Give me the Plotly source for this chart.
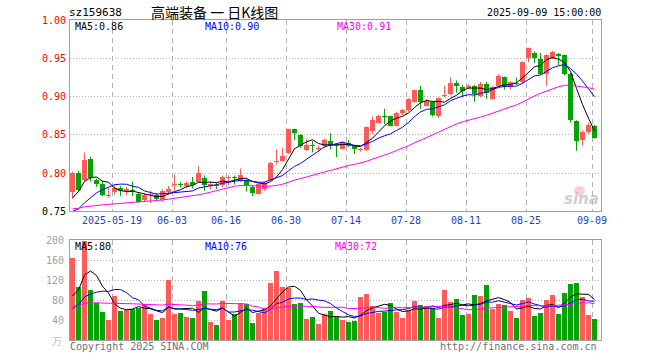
import numpy as np
import plotly.graph_objects as go

# ---------------- data ----------------
may = [8, 9, 12, 13, 14, 15, 16, 19, 20, 21, 22, 23, 26, 27, 28, 29, 30]
jun = [3, 4, 5, 6, 9, 10, 11, 12, 13, 16, 17, 18, 19, 20, 23, 24, 25, 26, 27, 30]
jul = [1, 2, 3, 4, 7, 8, 9, 10, 11, 14, 15, 16, 17, 18, 21, 22, 23, 24, 25, 28, 29, 30, 31]
aug = [1, 4, 5, 6, 7, 8, 11, 12, 13, 14, 15, 18, 19, 20, 21, 22, 25, 26, 27, 28, 29]
sep = [1, 2, 3, 4, 5, 8, 9]
dates = (["2025-05-%02d" % d for d in may] + ["2025-06-%02d" % d for d in jun] +
         ["2025-07-%02d" % d for d in jul] + ["2025-08-%02d" % d for d in aug] +
         ["2025-09-%02d" % d for d in sep])

open_ = [0.775, 0.800, 0.791, 0.819, 0.791, 0.786, 0.770, 0.775, 0.780, 0.776,
         0.778, 0.773, 0.765, 0.771, 0.771, 0.765, 0.775, 0.784, 0.785, 0.783,
         0.789, 0.789, 0.793, 0.783, 0.784, 0.785, 0.794, 0.795, 0.790, 0.791,
         0.782, 0.773, 0.779, 0.791, 0.814, 0.816, 0.826, 0.857, 0.850, 0.830,
         0.837, 0.831, 0.835, 0.842, 0.836, 0.832, 0.839, 0.836, 0.830, 0.830,
         0.855, 0.866, 0.874, 0.874, 0.862, 0.879, 0.882, 0.893, 0.909, 0.888,
         0.893, 0.875, 0.901, 0.903, 0.918, 0.912, 0.911, 0.914, 0.901, 0.917,
         0.897, 0.914, 0.925, 0.912, 0.918, 0.919, 0.951, 0.957, 0.949, 0.930,
         0.950, 0.956, 0.954, 0.930, 0.868, 0.843, 0.854, 0.862]
high = [0.802, 0.803, 0.827, 0.821, 0.793, 0.790, 0.781, 0.784, 0.783, 0.782,
        0.789, 0.774, 0.773, 0.777, 0.774, 0.779, 0.783, 0.798, 0.788, 0.789,
        0.795, 0.809, 0.797, 0.789, 0.787, 0.797, 0.797, 0.797, 0.806, 0.793,
        0.784, 0.787, 0.789, 0.815, 0.831, 0.833, 0.858, 0.858, 0.851, 0.845,
        0.842, 0.836, 0.845, 0.852, 0.837, 0.842, 0.843, 0.837, 0.833, 0.861,
        0.874, 0.876, 0.884, 0.875, 0.880, 0.884, 0.898, 0.909, 0.914, 0.897,
        0.894, 0.899, 0.914, 0.925, 0.921, 0.915, 0.916, 0.915, 0.919, 0.919,
        0.914, 0.929, 0.926, 0.920, 0.925, 0.946, 0.964, 0.959, 0.957, 0.955,
        0.960, 0.957, 0.955, 0.931, 0.869, 0.856, 0.866, 0.863]
low = [0.767, 0.776, 0.789, 0.789, 0.782, 0.770, 0.768, 0.772, 0.770, 0.771,
       0.770, 0.761, 0.762, 0.761, 0.764, 0.763, 0.772, 0.777, 0.781, 0.780,
       0.780, 0.788, 0.777, 0.779, 0.779, 0.782, 0.784, 0.785, 0.788, 0.776,
       0.770, 0.772, 0.777, 0.790, 0.811, 0.815, 0.825, 0.843, 0.833, 0.829,
       0.827, 0.828, 0.833, 0.831, 0.821, 0.831, 0.834, 0.825, 0.828, 0.829,
       0.851, 0.865, 0.864, 0.861, 0.861, 0.876, 0.880, 0.892, 0.884, 0.887,
       0.874, 0.872, 0.899, 0.902, 0.905, 0.899, 0.910, 0.893, 0.899, 0.897,
       0.896, 0.913, 0.909, 0.909, 0.915, 0.916, 0.945, 0.944, 0.928, 0.914,
       0.949, 0.941, 0.928, 0.866, 0.829, 0.836, 0.851, 0.845]
close = [0.800, 0.778, 0.817, 0.794, 0.786, 0.772, 0.771, 0.780, 0.777, 0.779,
         0.775, 0.762, 0.771, 0.772, 0.766, 0.777, 0.779, 0.785, 0.784, 0.787,
         0.784, 0.800, 0.784, 0.786, 0.783, 0.795, 0.795, 0.794, 0.798, 0.784,
         0.774, 0.786, 0.787, 0.813, 0.815, 0.822, 0.857, 0.852, 0.836, 0.837,
         0.836, 0.832, 0.843, 0.836, 0.835, 0.840, 0.835, 0.832, 0.831, 0.860,
         0.870, 0.875, 0.873, 0.862, 0.879, 0.882, 0.897, 0.908, 0.893, 0.894,
         0.876, 0.898, 0.902, 0.918, 0.914, 0.907, 0.914, 0.903, 0.917, 0.905,
         0.913, 0.927, 0.914, 0.919, 0.917, 0.945, 0.963, 0.950, 0.929, 0.954,
         0.958, 0.953, 0.929, 0.870, 0.842, 0.854, 0.863, 0.846]
volume = [165, 107, 198, 100, 75, 57, 40, 88, 58, 60,
          63, 65, 72, 52, 40, 45, 120, 52, 55, 46,
          45, 78, 98, 37, 30, 78, 40, 53, 75, 72,
          35, 55, 65, 115, 138, 107, 105, 72, 75, 42,
          47, 32, 52, 58, 47, 40, 37, 38, 86, 92,
          68, 54, 57, 74, 56, 44, 60, 78, 70, 68,
          65, 44, 100, 76, 82, 50, 53, 90, 88, 110,
          63, 73, 70, 59, 44, 80, 84, 48, 54, 80,
          90, 52, 94, 112, 114, 86, 50, 42]

# estimated sessions just before the window (only feed the moving averages)
prior_close = [0.760, 0.758, 0.762, 0.757, 0.755, 0.753, 0.756, 0.759, 0.754, 0.750,
               0.752, 0.755, 0.757, 0.753, 0.750, 0.748, 0.752, 0.756, 0.758, 0.755,
               0.745, 0.738, 0.728, 0.722, 0.730, 0.735, 0.752, 0.769, 0.781]
prior_vol = [72, 65, 80, 68, 75, 60, 70, 85, 66, 72, 78, 64, 70, 68, 74, 62, 75, 70, 66, 70,
             40, 35, 42, 36, 37, 45, 50, 60, 120]

tick_dates = ["2025-05-19", "2025-06-03", "2025-06-16", "2025-06-30", "2025-07-14",
              "2025-07-28", "2025-08-11", "2025-08-25", "2025-09-09"]
tick_text = ["2025-05-19", "06-03", "06-16", "06-30", "07-14", "07-28", "08-11", "08-25", "09-09"]
price_ticks = [1.00, 0.95, 0.90, 0.85, 0.80, 0.75]
vol_ticks = [200, 160, 120, 80, 40]
price_ma_labels = ["MA5:0.86", "MA10:0.90", "MA30:0.91"]
vol_ma_labels = ["MA5:80", "MA10:76", "MA30:72"]

# ---------------- derived ----------------
n = len(dates)
x = np.arange(n)
o = np.array(open_); h = np.array(high); l = np.array(low); c = np.array(close)
v = np.array(volume, dtype=float)
up = c >= o


def ma(prior, vals, k):
    s = np.concatenate([np.array(prior, dtype=float), np.asarray(vals, dtype=float)])
    out = np.convolve(s, np.ones(k) / k, mode="valid")
    return out[-len(vals):]


RED = "#ff5a5a"
GREEN = "#06a306"
MONO = "DejaVu Sans Mono"

fig = go.Figure()


def wick_xy(mask):
    xs, ys = [], []
    for i in np.where(mask)[0]:
        xs += [i, i, None]
        ys += [l[i], h[i], None]
    return xs, ys


for mask, col in [(up, RED), (~up, GREEN)]:
    wx, wy = wick_xy(mask)
    fig.add_trace(go.Scatter(x=wx, y=wy, mode="lines", line=dict(color=col, width=1),
                             hoverinfo="skip", showlegend=False, xaxis="x", yaxis="y"))
    base = np.minimum(o, c)[mask]
    hgt = np.maximum(np.abs(c - o)[mask], 0.0012)
    fig.add_trace(go.Bar(x=x[mask], y=hgt, base=base, width=0.8, marker=dict(color=col, line=dict(width=0)),
                         showlegend=False, xaxis="x", yaxis="y"))

for k, col in [(5, "#000000"), (10, "#0000ff"), (30, "#ff00ff")]:
    fig.add_trace(go.Scatter(x=x, y=ma(prior_close, c, k), mode="lines",
                             line=dict(color=col, width=1), showlegend=False, xaxis="x", yaxis="y"))

for mask, col in [(up, RED), (~up, GREEN)]:
    fig.add_trace(go.Bar(x=x[mask], y=v[mask], width=0.8, marker=dict(color=col, line=dict(width=0)),
                         showlegend=False, xaxis="x2", yaxis="y2"))
for k, col in [(5, "#000000"), (10, "#0000ff"), (30, "#ff00ff")]:
    fig.add_trace(go.Scatter(x=x, y=ma(prior_vol, v, k), mode="lines",
                             line=dict(color=col, width=1), showlegend=False, xaxis="x2", yaxis="y2"))

grid_x = [dates.index(d) - 0.42 for d in tick_dates]
xr = [-0.42, n + 0.08]
common_x = dict(range=xr, tickvals=grid_x, showgrid=True, gridcolor="#b0b0b0", griddash="5px,4px",
                gridwidth=1, zeroline=False, showline=True, mirror=True, linecolor="#a0a0a0",
                linewidth=1, ticks="", fixedrange=True)
fig.update_layout(
    width=660, height=360, autosize=False,
    margin=dict(l=70, r=59, t=20, b=20),
    paper_bgcolor="white", plot_bgcolor="white",
    barmode="overlay", bargap=0, showlegend=False,
    xaxis=dict(domain=[0, 1], anchor="y", ticktext=tick_text,
               tickfont=dict(family=MONO, size=10, color="#1f3fbf"), **common_x),
    yaxis=dict(domain=[0.402, 1], range=[0.75, 1.0], tickvals=[0.80, 0.85, 0.90, 0.95],
               showticklabels=False, showgrid=True, gridcolor="#b0b0b0", griddash="1px,2px",
               zeroline=False, showline=True, mirror=True, linecolor="#a0a0a0", linewidth=1, ticks="",
               fixedrange=True),
    xaxis2=dict(domain=[0, 1], anchor="y2", showticklabels=False, **common_x),
    yaxis2=dict(domain=[0, 0.3125], range=[0, 200], tickvals=[40, 80, 120, 160],
                showticklabels=False, showgrid=True, gridcolor="#b0b0b0", griddash="1px,2px",
                zeroline=False, showline=True, mirror=True, linecolor="#a0a0a0", linewidth=1, ticks="",
                fixedrange=True),
)

ann = []
for p in price_ticks:
    ann.append(dict(x=0, xref="paper", y=p, yref="y", text="%.2f" % p, showarrow=False,
                    xanchor="right", yanchor="middle", xshift=-2,
                    font=dict(family=MONO, size=10, color="#ff0000" if p > 0.76 else "#000000")))
for q in vol_ticks:
    ann.append(dict(x=0, xref="paper", y=q, yref="y2", text=str(q), showarrow=False,
                    xanchor="right", yanchor="middle", xshift=-4,
                    font=dict(family=MONO, size=10, color="#a0a0a0")))
ann.append(dict(x=0, xref="paper", y=0, yref="y2", text="万", showarrow=False, xanchor="right",
                yanchor="middle", xshift=-6, font=dict(family="Noto Sans CJK SC", size=10, color="#c0c0c0")))


def py(pix):
    return (340 - pix) / 320.0


def px(pix):
    return (pix - 70) / 531.0


ann.append(dict(x=0, xref="paper", y=py(12), yref="paper", text="sz159638", showarrow=False,
                xanchor="left", yanchor="middle", xshift=-3, font=dict(family=MONO, size=11, color="#000")))
ann.append(dict(x=px(214), xref="paper", y=py(12), yref="paper", text="高端装备 一 日K线图", showarrow=False,
                xanchor="center", yanchor="middle", font=dict(family="Noto Sans CJK SC", size=14, color="#000")))
ann.append(dict(x=1, xref="paper", y=py(12), yref="paper", text="2025-09-09 15:00:00", showarrow=False,
                xanchor="right", yanchor="middle", xshift=2, font=dict(family=MONO, size=10, color="#000")))
for txt, xp, col in zip(price_ma_labels, [75, 205, 337], ["#000000", "#0000ff", "#ff00ff"]):
    ann.append(dict(x=px(xp), xref="paper", y=py(27), yref="paper", text=txt, showarrow=False,
                    xanchor="left", yanchor="middle", xshift=-2, font=dict(family=MONO, size=10, color=col)))
for txt, xp, col in zip(vol_ma_labels, [75, 205, 335], ["#000000", "#0000ff", "#ff00ff"]):
    ann.append(dict(x=px(xp), xref="paper", y=py(246.5), yref="paper", text=txt, showarrow=False,
                    xanchor="left", yanchor="middle", xshift=-2, font=dict(family=MONO, size=10, color=col)))
ann.append(dict(x=0, xref="paper", y=py(346.5), yref="paper", text="Copyright 2025 SINA.COM", showarrow=False,
                xanchor="left", yanchor="middle", xshift=-2, font=dict(family=MONO, size=10, color="#707070")))
ann.append(dict(x=px(597), xref="paper", y=py(346.5), yref="paper", text="http://finance.sina.com.cn",
                showarrow=False, xanchor="right", yanchor="middle", xshift=2,
                font=dict(family=MONO, size=10, color="#707070")))
ann.append(dict(x=px(581), xref="paper", y=py(199), yref="paper", text="<b><i>sina</i></b>", showarrow=False,
                xanchor="center", yanchor="middle",
                font=dict(family="DejaVu Sans", size=15, color="rgba(190,190,190,0.75)")))
fig.update_layout(annotations=ann)

# small reddish "eye" of the sina watermark
fig.add_shape(type="circle", xref="paper", yref="paper",
              x0=px(574), x1=px(585), y0=py(196), y1=py(186),
              line=dict(width=0), fillcolor="rgba(240,140,140,0.4)", layer="above")

fig.write_html("out.html", config={"displayModeBar": False, "staticPlot": True},
               post_script="document.body.style.margin='0';")
